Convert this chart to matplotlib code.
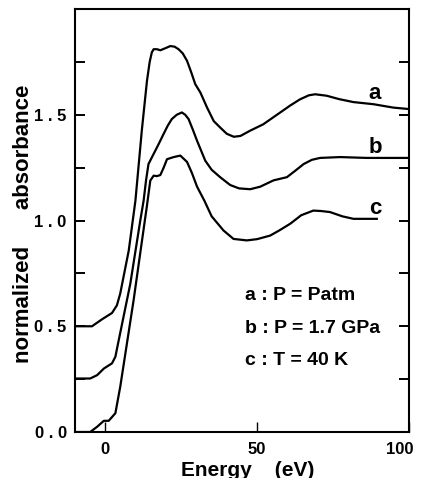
import matplotlib
matplotlib.use('Agg')
import matplotlib.pyplot as plt
from matplotlib.ticker import FixedLocator, FixedFormatter, MultipleLocator
from matplotlib.transforms import ScaledTranslation

plt.rcParams['font.family'] = ['Liberation Sans', 'DejaVu Sans']
plt.rcParams['font.weight'] = 'bold'

# spectra, offset vertically: a = Patm, b = 1.7 GPa, c = 40 K
energy_a = [-10, -4.4, -1.1, 2.2, 3.8, 4.9, 7.7, 9.9, 12.0, 13.7, 14.6, 15.3,
            15.9, 17.0, 18.1, 19.8, 21.4, 22.8, 24.1, 25.5, 26.9, 28.3, 29.6,
            31.3, 33.5, 35.7, 37.8, 40.0, 42.3, 44.5, 47.7, 52.0, 57.6, 61.0,
            64.1, 67.0, 69.1, 72.9, 77.0, 81.7, 88.3, 94.8, 100]
absorb_a = [0.50, 0.50, 0.533, 0.563, 0.599, 0.655, 0.858, 1.094, 1.425, 1.66,
            1.75, 1.795, 1.81, 1.81, 1.805, 1.815, 1.825, 1.822, 1.81, 1.79,
            1.755, 1.70, 1.645, 1.605, 1.534, 1.47, 1.44, 1.41, 1.396, 1.40,
            1.425, 1.455, 1.511, 1.545, 1.573, 1.592, 1.597, 1.59, 1.574,
            1.56, 1.55, 1.534, 1.527]

energy_b = [-10, -5.0, -2.7, -0.5, 2.2, 3.3, 4.4, 8.2, 11.5, 12.6, 13.4, 14.2,
            15.9, 17.5, 19.2, 20.6, 21.9, 23.5, 25.2, 26.3, 27.4, 28.8, 30.2,
            32.9, 35.0, 37.8, 41.1, 44.0, 47.7, 51.0, 55.4, 59.8, 62.5, 65.3,
            68.0, 70.7, 77.3, 86.1, 100]
absorb_b = [0.253, 0.253, 0.269, 0.30, 0.325, 0.356, 0.434, 0.70, 1.0, 1.094,
            1.19, 1.267, 1.315, 1.36, 1.41, 1.45, 1.48, 1.50, 1.511, 1.50,
            1.48, 1.43, 1.377, 1.283, 1.24, 1.205, 1.168, 1.152, 1.148, 1.16,
            1.19, 1.205, 1.235, 1.267, 1.287, 1.296, 1.30, 1.296, 1.296]

energy_c = [-10, -5.0, -2.7, -0.5, 1.1, 3.3, 4.9, 9.3, 13.0, 13.6, 14.8, 15.9,
            17.0, 18.1, 19.2, 20.3, 22.5, 24.7, 26.9, 28.5, 30.2, 32.6, 35.0,
            38.9, 42.2, 46.6, 50.0, 54.3, 57.5, 60.9, 64.5, 68.5, 71.0, 74.0,
            78.0, 81.7, 89.4]
absorb_c = [0.0, 0.0, 0.025, 0.053, 0.053, 0.089, 0.214, 0.623, 1.0, 1.06,
            1.189, 1.212, 1.21, 1.215, 1.25, 1.29, 1.30, 1.307, 1.277, 1.225,
            1.16, 1.094, 1.02, 0.953, 0.913, 0.906, 0.912, 0.929, 0.955,
            0.985, 1.025, 1.047, 1.045, 1.04, 1.02, 1.008, 1.008]

curve_names = ['a', 'b', 'c']
legend_lines = ['a : P = Patm', 'b : P = 1.7 GPa', 'c : T = 40 K']

y_ticks = [0.0, 0.5, 1.0, 1.5]
y_ticklabels = ['0 . 0', '0 . 5', '1 . 0', '1 . 5']
x_ticks = [0, 50, 100]
x_ticklabels = ['0', '50', '100']

fig = plt.figure(figsize=(4.23, 4.78), dpi=100)
ax = fig.add_axes([0.1773, 0.0962, 0.7896, 0.8849])

for xs, ys in [(energy_a, absorb_a), (energy_b, absorb_b), (energy_c, absorb_c)]:
    ax.plot(xs, ys, color='black', lw=1.6, solid_joinstyle='round')

ax.set_xlim(-10, 100)
ax.set_ylim(0, 2.0)

ax.yaxis.set_major_locator(FixedLocator(y_ticks))
ax.yaxis.set_major_formatter(FixedFormatter(y_ticklabels))
ax.yaxis.set_minor_locator(MultipleLocator(0.25))
ax.xaxis.set_major_locator(FixedLocator(x_ticks))
ax.xaxis.set_major_formatter(FixedFormatter(x_ticklabels))

ax.tick_params(axis='y', which='both', direction='in', length=7, width=1.4,
               right=True, labelsize=12, pad=6)
ax.tick_params(axis='x', which='major', direction='in', length=7, width=1.0,
               top=False, labelsize=12, pad=7)
for lab in ax.get_xticklabels() + ax.get_yticklabels():
    lab.set_fontweight('bold')
# last x label sits a little left of its tick so it stays on the page
last = ax.get_xticklabels()[-1]
last.set_transform(last.get_transform() +
                   ScaledTranslation(-0.09, 0, fig.dpi_scale_trans))
for s in ax.spines.values():
    s.set_linewidth(1.5)

# curve tags at the right end
ax.text(88.8, 1.60, curve_names[0], fontsize=16, ha='center', va='center')
ax.text(88.8, 1.344, curve_names[1], fontsize=16, ha='center', va='center')
ax.text(88.8, 1.057, curve_names[2], fontsize=16, ha='center', va='center')

for txt, yy in zip(legend_lines, [0.646, 0.49, 0.34]):
    ax.text(46.0, yy, txt, fontsize=14, ha='left', va='center')

fig.text(24 / 423, 1 - 224 / 478, 'normalized      absorbance', fontsize=16,
         rotation=90, ha='center', va='center')
fig.text(248 / 423, 1 - 470 / 478, 'Energy    (eV)', fontsize=15,
         ha='center', va='center')

fig.savefig('out.png', dpi=100)
